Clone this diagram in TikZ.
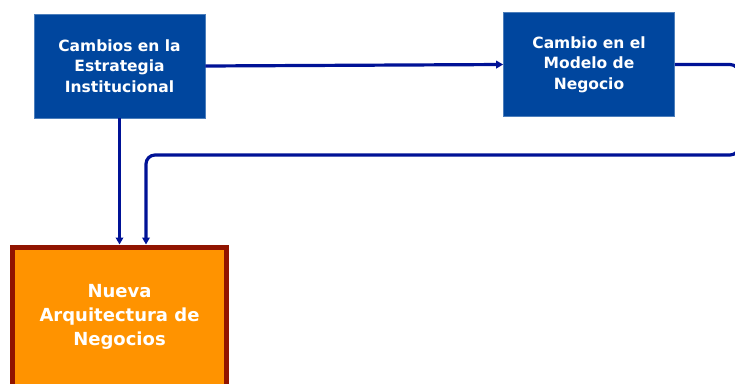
\documentclass[tikz,border=0pt]{standalone}
\usepackage{fontspec}
\setmainfont{DejaVu Sans}[BoldFont=DejaVu Sans Bold]
\usetikzlibrary{arrows.meta}
\definecolor{cajaazul}{RGB}{0,70,158}
\definecolor{flecha}{RGB}{0,18,150}
\definecolor{naranja}{RGB}{255,147,0}
\definecolor{borde}{RGB}{145,20,0}
\begin{document}
\begin{tikzpicture}[x=1pt,y=-1pt,
    caja/.style={fill=cajaazul, draw=cajaazul!70!white, line width=0.6pt, text=white, font=\bfseries\fontsize{15.5}{20.5}\selectfont, align=center, minimum width=171pt, minimum height=104pt, inner sep=0pt},
    meta/.style={fill=naranja, draw=borde, line width=5pt, text=white, font=\bfseries\fontsize{18}{24}\selectfont, align=center, minimum width=214pt, minimum height=140pt, inner sep=0pt},
    flujo/.style={draw=flecha, line width=3.2pt, -{Triangle[length=7pt,width=7.5pt]}}]
				\clip (0,0) rectangle (735,383);
				\node[caja] at (119.5,66) (estrategia) {Cambios en la\\Estrategia\\Institucional};
				\node[caja] at (589,64.5) (modelo) {Cambio en el\\Modelo de\\Negocio};
				\node[meta] at (119.5,317) (nueva) {Nueva\\Arquitectura de\\Negocios};
				\coordinate (giro) at (739,155);
				\coordinate (bajada) at (146,0);

				\draw[flujo] (estrategia.east) -- (modelo.west);
				\draw[flujo] (estrategia.south) -- (estrategia.south |- nueva.north);
				\draw[flujo, rounded corners=9pt] (modelo.east) -| (giro) -| (bajada |- nueva.north);
\end{tikzpicture}
\end{document}
